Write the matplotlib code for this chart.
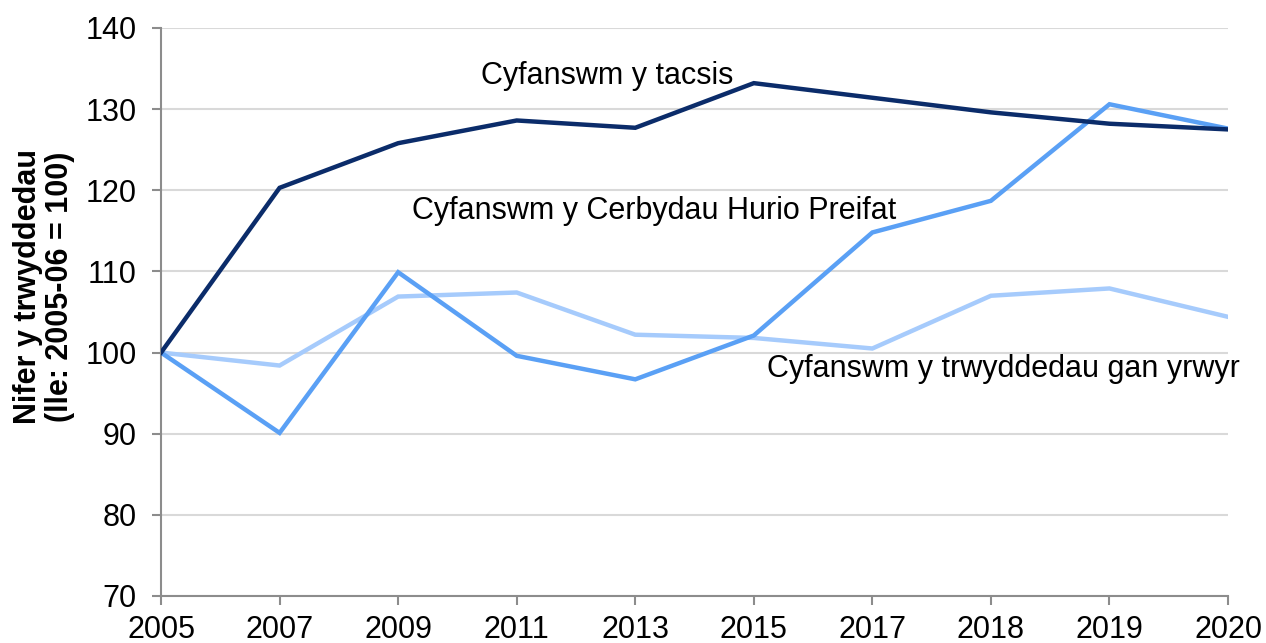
import matplotlib
matplotlib.use("Agg")
from matplotlib import pyplot as plt
import numpy as np

plt.rcParams['font.family'] = ['Liberation Sans', 'DejaVu Sans']

years = ["2005", "2007", "2009", "2011", "2013", "2015", "2017", "2018", "2019", "2020"]
taxis = [100, 120.3, 125.8, 128.6, 127.7, 133.2, 131.4, 129.6, 128.2, 127.5]
private_hire = [100, 90.1, 109.9, 99.6, 96.7, 102.1, 114.8, 118.7, 130.6, 127.6]
drivers = [100, 98.4, 106.9, 107.4, 102.2, 101.8, 100.5, 107.0, 107.9, 104.4]

x = np.arange(len(years))
axis_grey = "#8c8c8c"

fig = plt.figure(figsize=(12.66, 6.43), dpi=100)
ax = fig.add_axes([0.1272, 0.0731, 0.8428, 0.8834])

ax.plot(x, drivers, color="#a6cbfc", lw=3.2, solid_joinstyle="miter", zorder=3)
ax.plot(x, private_hire, color="#5aa0f5", lw=3.2, solid_joinstyle="miter", zorder=4)
ax.plot(x, taxis, color="#0b2c6a", lw=3.2, solid_joinstyle="miter", zorder=5)

ax.text(2.70, 134.1, "Cyfanswm y tacsis", fontsize=22, va="center", ha="left")
ax.text(2.12, 117.5, "Cyfanswm y Cerbydau Hurio Preifat", fontsize=22, va="center", ha="left")
ax.text(5.11, 98.0, "Cyfanswm y trwyddedau gan yrwyr", fontsize=22, va="center", ha="left",
        clip_on=False)

ax.set_xlim(0, len(years) - 1)
ax.set_ylim(70, 140)
ax.set_xticks(x)
ax.set_xticklabels(years)
ax.set_yticks(np.arange(70, 141, 10))
ax.tick_params(labelsize=22, colors=axis_grey, labelcolor="black", length=6.5, width=1.5)
ax.tick_params(axis="x", pad=7.5)
ax.tick_params(axis="y", pad=11)

ax.yaxis.grid(True, color="#d9d9d9", lw=1.5)
ax.set_axisbelow(True)
for side in ["top", "right"]:
    ax.spines[side].set_visible(False)
for side in ["left", "bottom"]:
    ax.spines[side].set_color(axis_grey)
    ax.spines[side].set_linewidth(1.5)

ax.set_ylabel("Nifer y trwyddedau\n(lle: 2005-06 = 100)", fontsize=22, fontweight="bold",
              linespacing=1.1, va="center")
ax.yaxis.set_label_coords(-0.110, 0.544)

fig.savefig("out.png", dpi=100)
